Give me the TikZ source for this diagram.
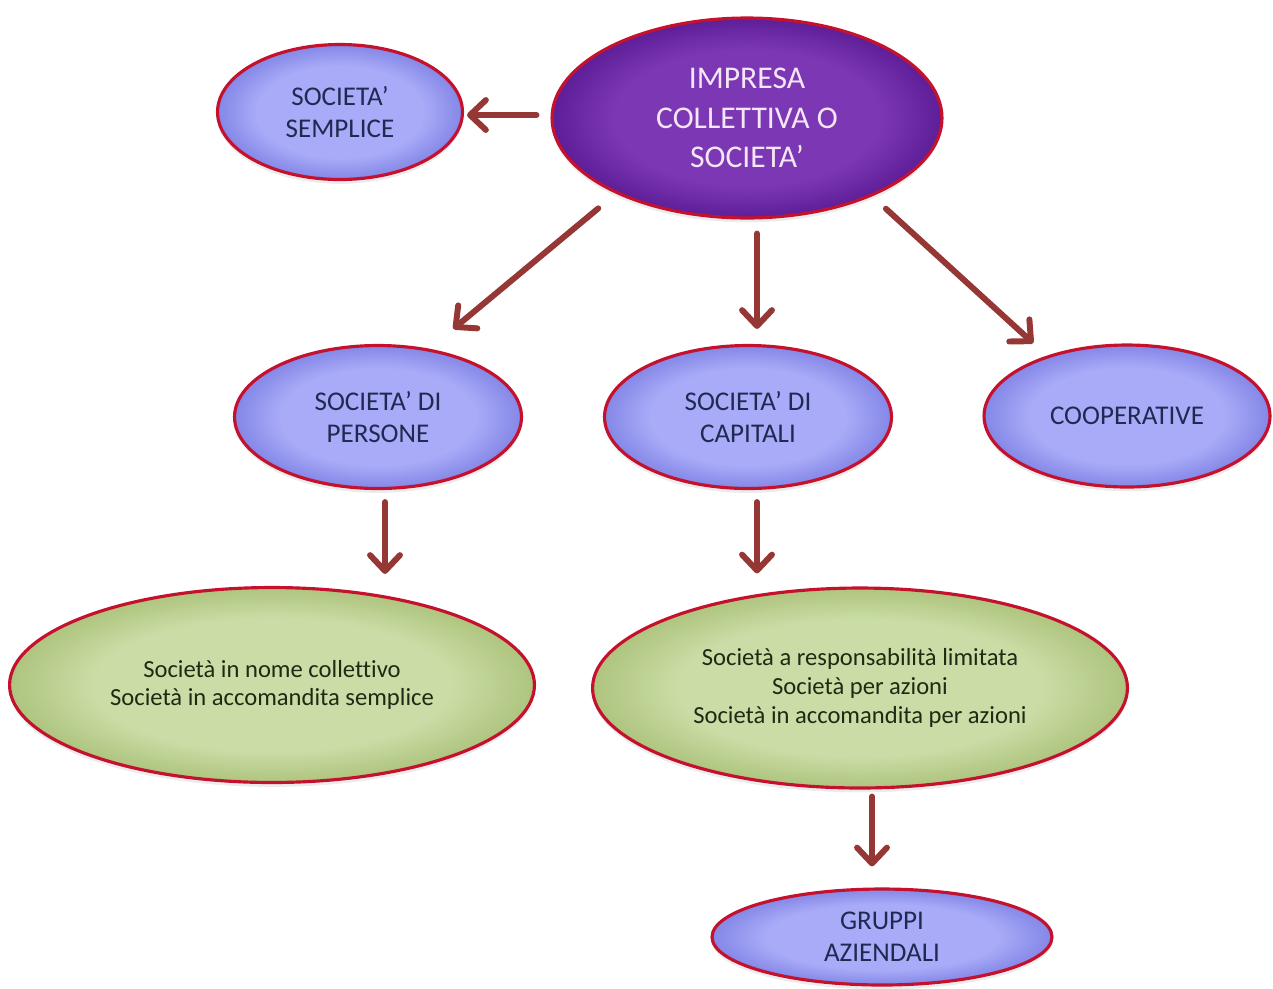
\documentclass[tikz,border=0pt]{standalone}
\usepackage{fontspec}
\setmainfont{Carlito}[Ligatures=NoCommon]
\usetikzlibrary{shapes.geometric,arrows.meta,shadows,calc}
\definecolor{bluein}{HTML}{A9ABF8}
\definecolor{blueout}{HTML}{8487E6}
\definecolor{purpin}{HTML}{7C38B4}
\definecolor{purpout}{HTML}{5E1E98}
\definecolor{greenin}{HTML}{CADDA6}
\definecolor{greenout}{HTML}{AEC47E}
\definecolor{rimred}{HTML}{C4122E}
\definecolor{arrowred}{HTML}{953735}
\definecolor{navytext}{HTML}{1F2A52}
\definecolor{greentext}{HTML}{1E2A12}
\definecolor{pinktext}{HTML}{F4E6F4}
\pgfdeclareradialshading{blueglow}{\pgfpoint{0bp}{0bp}}{color(0bp)=(bluein); color(17bp)=(bluein); color(25bp)=(blueout); color(50bp)=(blueout)}
\pgfdeclareradialshading{purpglow}{\pgfpoint{0bp}{0bp}}{color(0bp)=(purpin); color(17bp)=(purpin); color(25bp)=(purpout); color(50bp)=(purpout)}
\pgfdeclareradialshading{greenglow}{\pgfpoint{0bp}{0bp}}{color(0bp)=(greenin); color(17bp)=(greenin); color(25bp)=(greenout); color(50bp)=(greenout)}
\tikzset{
  oval/.style={ellipse, draw=rimred, line width=1.8pt, inner sep=0pt, align=center,
    drop shadow={opacity=0.15, shadow xshift=0pt, shadow yshift=-2.5pt}},
  bluebox/.style={oval, shading=blueglow, text=navytext, font=\fontsize{15.4}{18}\selectfont},
  purplebox/.style={oval, shading=purpglow, text=pinktext, font=\fontsize{18}{22.4}\selectfont},
  greenbox/.style={oval, shading=greenglow, text=greentext, font=\fontsize{14}{16.4}\selectfont},
  arr/.style={draw=arrowred, line width=3.4pt, line cap=round,
    -{Straight Barb[length=9pt,width=17pt,line cap=round,line join=round]}}
}
\begin{document}
\begin{tikzpicture}[x=0.02cm,y=-0.02cm]
\useasboundingbox (0,0) rectangle (1273,988);
\node[purplebox, minimum width=7.8cm, minimum height=4.0cm] (imp) at (747,118) {IMPRESA\\COLLETTIVA O\\SOCIETA’};
\node[bluebox, minimum width=4.9cm, minimum height=2.7cm] (sem) at (340,112) {SOCIETA’\\SEMPLICE};
\node[bluebox, minimum width=5.74cm, minimum height=2.86cm] (per) at (378,417) {SOCIETA’ DI\\PERSONE};
\node[bluebox, minimum width=5.74cm, minimum height=2.86cm] (cap) at (748,417) {SOCIETA’ DI\\CAPITALI};
\node[bluebox, minimum width=5.72cm, minimum height=2.84cm] (coop) at (1127,416) {COOPERATIVE};
\node[greenbox, minimum width=10.5cm, minimum height=3.9cm] (gl) at (272,685) {Società in nome collettivo\\Società in accomandita semplice};
\node[greenbox, minimum width=10.7cm, minimum height=4.0cm] (gr) at (860,688) {Società a responsabilità limitata\\Società per azioni\\Società in accomandita per azioni};
\node[bluebox, minimum width=6.8cm, minimum height=1.92cm] (grp) at (882,937) {GRUPPI\\AZIENDALI};

\draw[arr, shorten <=0.28cm, shorten >=0.06cm] ([yshift=0.06cm]imp.west) -- ([yshift=0.06cm]imp.west -| sem.east);
\draw[arr, shorten <=0.46cm, shorten >=0.62cm] (imp.210.5) -- (per.53.4);
\draw[arr, shorten <=0.28cm, shorten >=0.3cm] ([xshift=0.2cm]imp.south) -- ([xshift=0.2cm]imp.south |- cap.north);
\draw[arr, shorten <=0.37cm, shorten >=0.37cm] (imp.-32.1) -- (coop.143.9);
\draw[arr, shorten <=0.24cm, shorten >=0.24cm] ([xshift=0.14cm]per.south) -- ([xshift=0.14cm]per.south |- gl.north);
\draw[arr, shorten <=0.24cm, shorten >=0.26cm] ([xshift=0.18cm]cap.south) -- ([xshift=0.18cm]cap.south |- gr.north);
\draw[arr, shorten <=0.14cm, shorten >=0.42cm] ([xshift=0.24cm]gr.south) -- ([xshift=0.24cm]gr.south |- grp.north);
\end{tikzpicture}
\end{document}
